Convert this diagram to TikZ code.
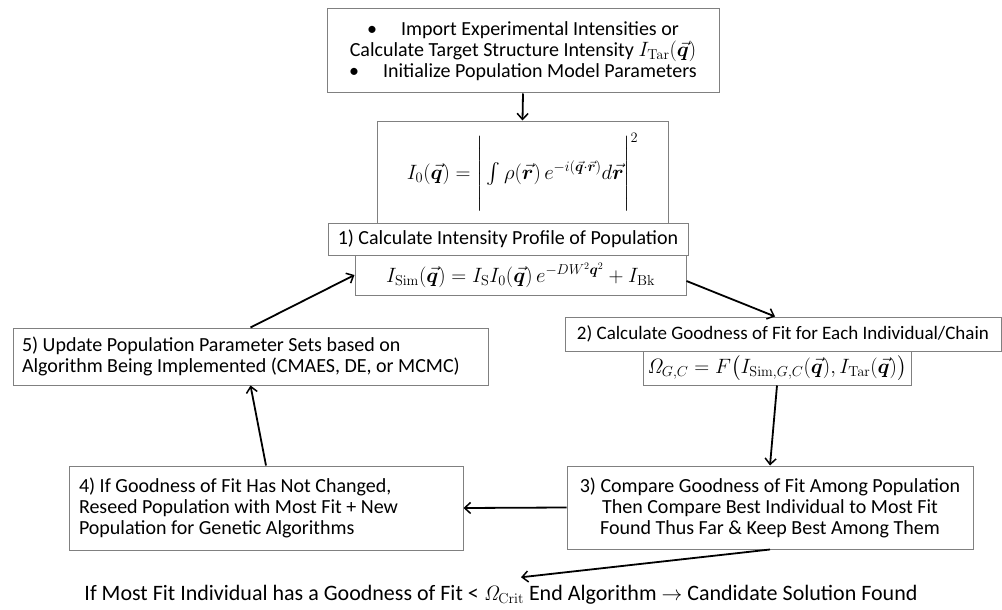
\documentclass[tikz,border=0pt]{standalone}
\usepackage{amsmath,bm}
\usepackage[no-math]{fontspec}
\setmainfont{Carlito}
\usetikzlibrary{arrows.meta}
\begin{document}
\begin{tikzpicture}[x=1pt,y=-1pt,
  box/.style={draw=black!50, line width=1pt, inner sep=0pt, align=center, fill=white,
              font=\fontsize{20}{21}\selectfont},
  mbox/.style={box, font=\fontsize{20.5}{22}\selectfont},
  lbox/.style={box, align=flush left, inner xsep=9pt},
  arr/.style={line width=1.8pt, -{Straight Barb[length=6pt,width=11pt,line width=1.5pt]}}]
\fill[white] (0,0) rectangle (1002,610);
\useasboundingbox (0,0) rectangle (1002,610);

\node[box, minimum width=392, minimum height=84] (top) at (523,51)
  {\textbullet\hspace{24pt}Import Experimental Intensities or\\
   Calculate Target Structure Intensity $I_{\mathrm{Tar}}(\vec{\bm q})$\\
   \textbullet\hspace{24pt}Initialize Population Model Parameters};

\node[mbox, minimum width=291, minimum height=102] (int) at (522.5,172)
  {$I_0(\vec{\bm q}) = \left|\rule[-30pt]{0pt}{66pt}\int \rho(\vec{\bm r})\,e^{-i(\vec{\bm q}\cdot\vec{\bm r})}d\vec{\bm r}\right|^2$};

\node[box, minimum width=360, minimum height=32] (b1) at (508,239)
  {1) Calculate Intensity Profile of Population};

\node[mbox, minimum width=331, minimum height=40] (isim) at (520.5,275)
  {$I_{\mathrm{Sim}}(\vec{\bm q}) = I_{\mathrm{S}} I_0(\vec{\bm q})\, e^{-DW^2\bm q^2} + I_{\mathrm{Bk}}$};

\node[box, font=\fontsize{19}{21}\selectfont, minimum width=436, minimum height=34] (b2) at (783,334)
  {2) Calculate Goodness of Fit for Each Individual/Chain};

\node[mbox, minimum width=268, minimum height=34] (om) at (777,368)
  {$\mathit{\Omega}_{G,C} = F\bigl(I_{\mathrm{Sim},G,C}(\vec{\bm q}), I_{\mathrm{Tar}}(\vec{\bm q})\bigr)$};

\node[lbox, text width=457, minimum height=57] (b5) at (250.5,356.5)
  {5) Update Population Parameter Sets based on\\
   Algorithm Being Implemented (CMAES, DE, or MCMC)};

\node[lbox, inner xsep=10pt, text width=374, minimum height=84] (b4) at (266,508)
  {4) If Goodness of Fit Has Not Changed,\\
   Reseed Population with Most Fit + New\\
   Population for Genetic Algorithms};

\node[box, minimum width=406, minimum height=83] (b3) at (770,507.5)
  {3) Compare Goodness of Fit Among Population\\
   Then Compare Best Individual to Most Fit\\
   Found Thus Far \& Keep Best Among Them};

\node[font=\fontsize{22}{23}\selectfont, inner sep=0pt] (fin) at (501,595)
  {If Most Fit Individual has a Goodness of Fit < $\mathit{\Omega}_{\mathrm{Crit}}$ End Algorithm $\rightarrow$ Candidate Solution Found};

\draw[arr] (top.south) -- (int.north);
\draw[arr] ([yshift=-6pt]isim.east) -- ([xshift=-8pt]b2.north);
\draw[arr] (om.south) -- (b3.north);
\draw[arr] (b3.west) -- (b4.east);
\draw[arr] (b4.north) -- (b5.south);
\draw[arr] (b5.north) -- (isim.west);
\draw[arr] (b3.south) -- ([xshift=20pt,yshift=8pt]fin.north);
\end{tikzpicture}
\end{document}
